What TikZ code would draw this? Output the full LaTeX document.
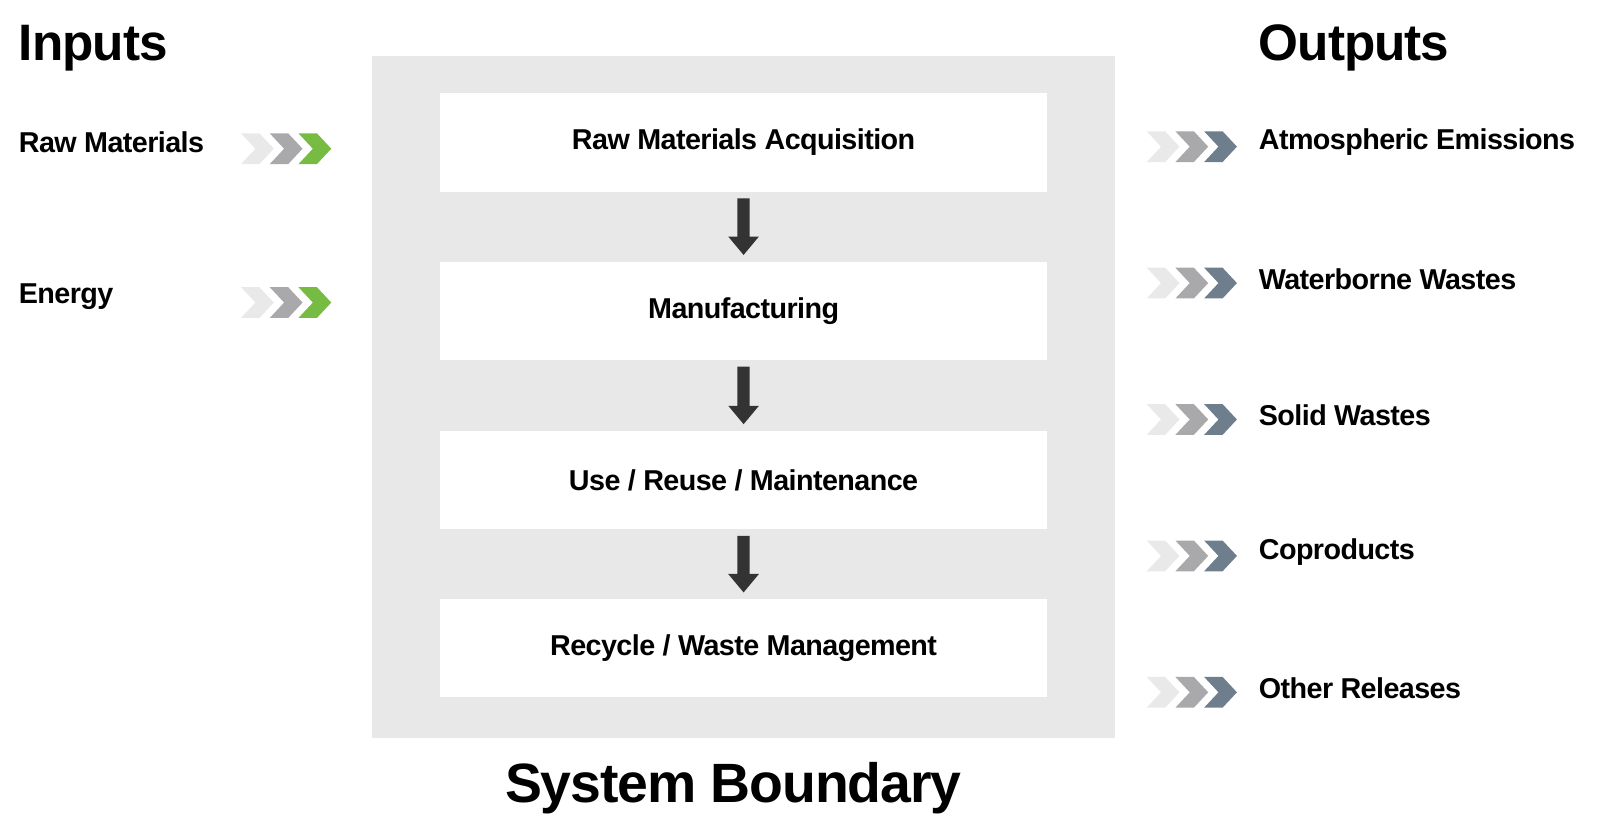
\documentclass[tikz,border=0pt]{standalone}
\usepackage{fontspec}
\setmainfont{Liberation Sans}[LetterSpace=-2]
\usetikzlibrary{calc}
\begin{document}
\begin{tikzpicture}[x=0.5pt,y=-0.5pt,
  lab/.style={anchor=west,font=\fontsize{14}{16}\selectfont\bfseries,inner sep=0},
  head/.style={anchor=west,font=\fontsize{25}{28}\selectfont\bfseries,inner sep=0},
  stage/.style={fill=white,minimum width=296pt,minimum height=48pt,inner sep=0,font=\fontsize{14}{16}\selectfont\bfseries},
  chev/.pic={\fill[pic actions] (0,-15) -- (18,-15) -- (32,0) -- (18,15) -- (0,15) -- (14,0) -- cycle;}]
\useasboundingbox (0,0) rectangle (1560,815);
\definecolor{bg}{HTML}{E8E8E8}
\definecolor{c1}{HTML}{E9E9E9}\definecolor{c2}{HTML}{A9A9AB}
\definecolor{cg}{HTML}{76BC43}\definecolor{cs}{HTML}{6E7E8C}
\definecolor{ar}{HTML}{333333}
\fill[bg] (363,55) rectangle (1087,720);
\node[stage] (s1) at (725,139) {Raw Materials Acquisition};
\node[stage] (s2) at (725,303) {Manufacturing};
\node[stage] (s3) at (725,468) {Use / Reuse / Maintenance};
\node[stage] (s4) at (725,632) {Recycle / Waste Management};
\foreach \a/\b in {s1/s2,s2/s3,s3/s4}{
  \path (\a.south) ++(0,6) coordinate (t) (\b.north) ++(0,-6) coordinate (h);
  \fill[ar] ($(t)+(-6,0)$) -- ($(h)+(-6,-18)$) -- ($(h)+(-15,-18)$) -- (h) -- ($(h)+(15,-18)$) -- ($(h)+(6,-18)$) -- ($(t)+(6,0)$) -- cycle;}
\node[head] (in) at (18,47) {Inputs};
\node[head] (out) at (1227,47) {Outputs};
\node[font=\fontsize{27}{30}\selectfont\bfseries,inner sep=0] (sb) at (715,768) {System Boundary};
\foreach \y/\t [count=\i] in {139/Raw Materials,289/Energy}{
  \node[lab] (i\i) at (18,\y) {\t};
  \pic[fill=c1] at (235,\y+6) {chev}; \pic[fill=c2] at (263,\y+6) {chev}; \pic[fill=cg] at (291,\y+6) {chev};}
\foreach \y/\t [count=\i] in {139/Atmospheric Emissions,272/Waterborne Wastes,405/Solid Wastes,538/Coproducts,671/Other Releases}{
  \node[lab] (o\i) at (1227,\y) {\t};
  \pic[fill=c1] at (1118,\y+4) {chev}; \pic[fill=c2] at (1146,\y+4) {chev}; \pic[fill=cs] at (1174,\y+4) {chev};}
\end{tikzpicture}
\end{document}
